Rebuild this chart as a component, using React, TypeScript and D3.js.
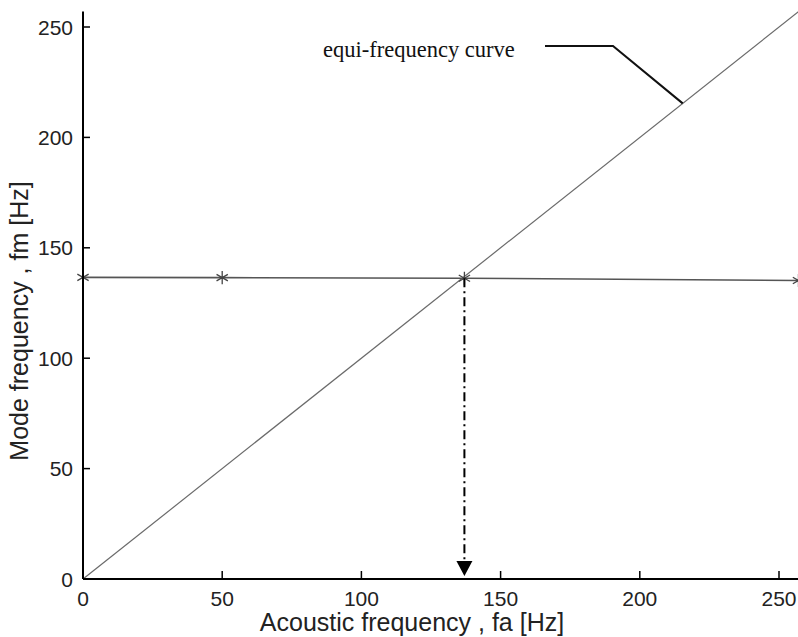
import React from "react";
import * as d3 from "d3";

// acoustic frequency (Hz) where the mode frequency was computed
const acousticFreq = [0, 50, 137, 257];
// computed mode frequency (Hz)
const modeFreq = [136.6, 136.5, 136.2, 135.2];
// equi-frequency curve fm = fa
const equiFreq = [0, 260];
// crossing point marked by the arrow
const crossing = 137;
const xTicks = [0, 50, 100, 150, 200, 250];
const yTicks = [0, 50, 100, 150, 200, 250];

const W = 798, H = 637;

const App = () => {
    const x = d3.scaleLinear().domain([0, 250]).range([83, 779]);
    const y = d3.scaleLinear().domain([0, 250]).range([579, 27]);

    const line = d3.line<number>()
        .x((d, i) => x(acousticFreq[i]))
        .y(d => y(d));
    const diag = d3.line<number>().x(d => x(d)).y(d => y(d));
    const star = d3.symbol().type(d3.symbolAsterisk).size(120)();

    const fm = modeFreq[acousticFreq.indexOf(crossing)];
    const sans = "'Liberation Sans', Arial, sans-serif";

    return (
        <svg width={W} height={H} style={{position: "absolute", left: 0, top: 0, background: "#fff"}}>
            {/* equi-frequency line */}
            <path d={diag(equiFreq) || ""} fill="none" stroke="#6a6a6a" strokeWidth={1.2} />
            {/* mode frequency */}
            <path d={line(modeFreq) || ""} fill="none" stroke="#555" strokeWidth={1.6} />
            {modeFreq.map((v, i) => (
                <path key={i} d={star || ""} transform={`translate(${x(acousticFreq[i])},${y(v)})`}
                      fill="none" stroke="#444" strokeWidth={1.3} />
            ))}
            {/* dash-dot drop line with arrow */}
            <line x1={x(crossing)} x2={x(crossing)} y1={y(fm)} y2={y(0) - 16}
                  stroke="#000" strokeWidth={2} strokeDasharray="9,4,2,4" />
            <path d={`M${x(crossing) - 8},${y(0) - 18} L${x(crossing) + 8},${y(0) - 18} L${x(crossing)},${y(0) - 3} Z`}
                  fill="#000" />

            {/* axes */}
            <line x1={x(0)} x2={x(0)} y1={y(0)} y2={y(257)} stroke="#000" strokeWidth={2} />
            <line x1={x(0)} x2={x(260)} y1={y(0)} y2={y(0)} stroke="#000" strokeWidth={2} />
            {yTicks.map(t => (
                <g key={"y" + t}>
                    {t > 0 && <line x1={x(0)} x2={x(0) + 7} y1={y(t)} y2={y(t)} stroke="#000" strokeWidth={1.5} />}
                    <text x={x(0) - 10} y={y(t)} dy="0.36em" textAnchor="end" fontFamily={sans} fontSize={21} fill="#222">{t}</text>
                </g>
            ))}
            {xTicks.map(t => (
                <g key={"x" + t}>
                    {t > 0 && <line x1={x(t)} x2={x(t)} y1={y(0)} y2={y(0) - 8} stroke="#000" strokeWidth={1.5} />}
                    <text x={x(t)} y={606} textAnchor="middle" fontFamily={sans} fontSize={21} fill="#222">{t}</text>
                </g>
            ))}

            {/* axis labels */}
            <text x={412} y={631} textAnchor="middle" fontFamily={sans} fontSize={25} fill="#222">Acoustic frequency , fa [Hz]</text>
            <text transform="translate(28,321) rotate(-90)" textAnchor="middle" fontFamily={sans} fontSize={25} fill="#222">Mode frequency , fm [Hz]</text>

            {/* annotation */}
            <text x={323} y={57} fontFamily="'Liberation Serif', 'Times New Roman', serif" fontSize={22.5} fill="#111">equi-frequency curve</text>
            <path d={`M545,46 L613,46 L${x(215.4)},${y(215.4)}`} fill="none" stroke="#111" strokeWidth={2} />
        </svg>
    );
};

export default App;
